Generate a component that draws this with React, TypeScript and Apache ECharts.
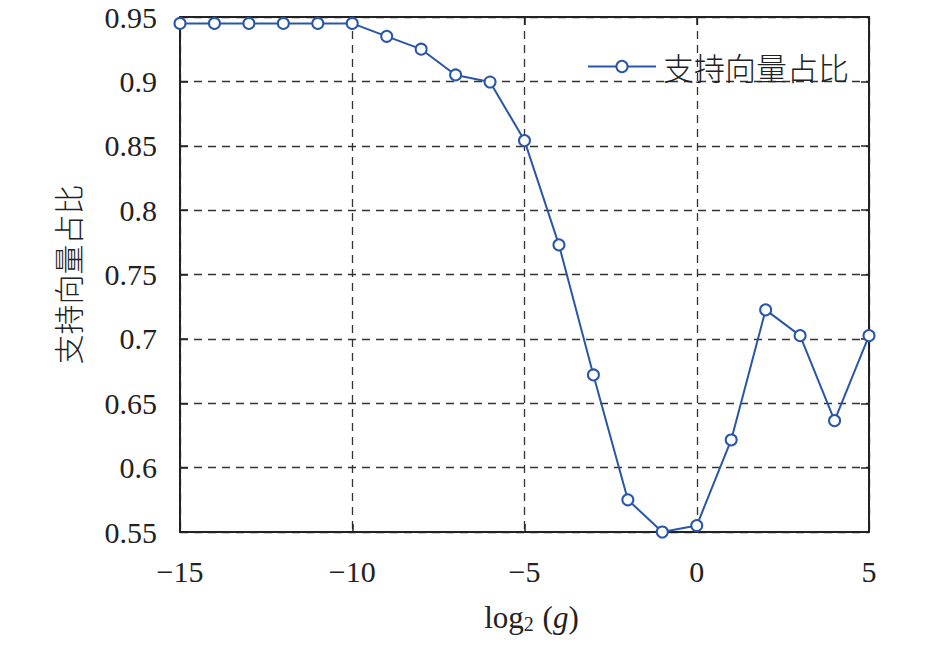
import React, { useEffect, useRef } from "react";
import * as echarts from "echarts";

const xValues = [-15, -14, -13, -12, -11, -10, -9, -8, -7, -6, -5, -4, -3, -2, -1, 0, 1, 2, 3, 4, 5];
const svRatio = [0.945, 0.945, 0.945, 0.945, 0.945, 0.945, 0.935, 0.925, 0.905, 0.8995, 0.854, 0.773, 0.672, 0.575, 0.55, 0.555, 0.6215, 0.7225, 0.7025, 0.6365, 0.7025];
const seriesName = "支持向量占比";
const yAxisTitle = "支持向量占比";

const serif = "'Liberation Serif', 'Times New Roman', serif";
const cjk = "'Noto Sans CJK SC', sans-serif";
const lineColor = "#2a56a8";

export default function App() {
  const ref = useRef<HTMLDivElement>(null);
  useEffect(() => {
    if (!ref.current) return;
    const chart = echarts.init(ref.current, null, { renderer: "svg" });
    const fmtX = (v: number) => (v < 0 ? "\u2212" + Math.abs(v) : String(v));
    const fmtY = (v: number) => String(+v.toFixed(2));
    const gridLine = { show: true, lineStyle: { color: "#333", width: 1.3, type: [8, 6] as any } };
    chart.setOption({
      animation: false,
      backgroundColor: "#fff",
      grid: { left: 180, right: 77, top: 17, bottom: 114, containLabel: false },
      legend: {
        left: 582,
        top: 46,
        itemWidth: 68,
        itemHeight: 14,
        itemGap: 10,
        textStyle: { fontFamily: cjk, fontSize: 31, fontWeight: 300, color: "#222", padding: [0, 0, 0, 2] },
        data: [seriesName],
      },
      xAxis: [
        {
          type: "value",
          min: -15,
          max: 5,
          interval: 5,
          position: "bottom",
          axisLine: { show: true, onZero: false, lineStyle: { color: "#222", width: 2 } },
          axisTick: { show: true, inside: true, length: 8, lineStyle: { color: "#222", width: 1.5 } },
          axisLabel: { formatter: fmtX, fontFamily: serif, fontSize: 30, color: "#222", margin: 24 },
          splitLine: gridLine,
          name: "log{sub|2} ({it|g})",
          nameLocation: "middle",
          nameGap: 68,
          nameTextStyle: {
            fontFamily: serif,
            fontSize: 31,
            color: "#222",
            padding: [0, 0, 0, 14],
            rich: {
              sub: { fontFamily: serif, fontSize: 20, color: "#222", verticalAlign: "bottom", padding: [14, 1, 0, 0] },
              it: { fontFamily: serif, fontSize: 31, fontStyle: "italic", color: "#222" },
            },
          },
        },
        {
          type: "value",
          min: -15,
          max: 5,
          interval: 5,
          position: "top",
          axisLine: { show: true, onZero: false, lineStyle: { color: "#222", width: 2 } },
          axisTick: { show: true, inside: true, length: 8, lineStyle: { color: "#222", width: 1.5 } },
          axisLabel: { show: false },
          splitLine: { show: false },
        },
      ],
      yAxis: [
        {
          type: "value",
          min: 0.55,
          max: 0.95,
          interval: 0.05,
          position: "left",
          axisLine: { show: true, onZero: false, lineStyle: { color: "#222", width: 2 } },
          axisTick: { show: true, inside: true, length: 8, lineStyle: { color: "#222", width: 1.5 } },
          axisLabel: { formatter: fmtY, fontFamily: serif, fontSize: 30, color: "#222", margin: 23 },
          splitLine: gridLine,
          name: yAxisTitle,
          nameLocation: "middle",
          nameRotate: 90,
          nameGap: 98,
          nameTextStyle: { fontFamily: cjk, fontSize: 30, fontWeight: 300, color: "#222" },
        },
        {
          type: "value",
          min: 0.55,
          max: 0.95,
          interval: 0.05,
          position: "right",
          axisLine: { show: true, onZero: false, lineStyle: { color: "#222", width: 2 } },
          axisTick: { show: true, inside: true, length: 8, lineStyle: { color: "#222", width: 1.5 } },
          axisLabel: { show: false },
          splitLine: { show: false },
        },
      ],
      series: [
        {
          name: seriesName,
          type: "line",
          xAxisIndex: 0,
          yAxisIndex: 0,
          data: xValues.map((x, i) => [x, svRatio[i]]),
          symbol: "emptyCircle",
          symbolSize: 11,
          clip: false,
          lineStyle: { color: lineColor, width: 2 },
          itemStyle: { color: lineColor, borderColor: lineColor, borderWidth: 2 },
        },
      ],
    });
    return () => chart.dispose();
  }, []);
  return (
    <div
      ref={ref}
      style={{ position: "absolute", left: 0, top: 0, width: 946, height: 646, background: "#fff" }}
    />
  );
}
